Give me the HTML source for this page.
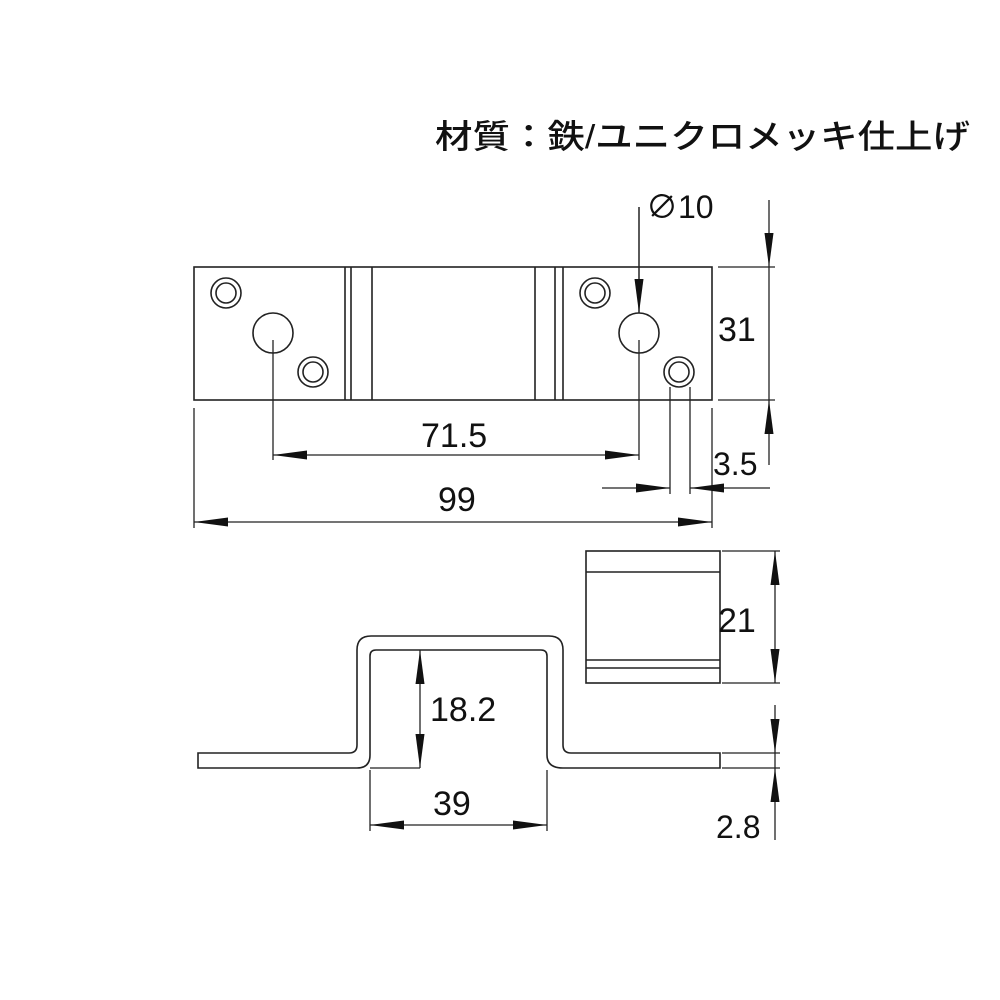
<!DOCTYPE html>
<html><head><meta charset="utf-8"><style>
html,body{margin:0;padding:0;background:#fff;}
svg{display:block;}
text{font-family:"Liberation Sans","Noto Sans CJK JP",sans-serif;fill:#111;}
</style></head><body>
<svg width="1000" height="1000" viewBox="0 0 1000 1000" xmlns="http://www.w3.org/2000/svg">
<defs>
<marker id="a" viewBox="0 0 34 10" refX="34" refY="5" markerWidth="34" markerHeight="10" markerUnits="userSpaceOnUse" orient="auto-start-reverse"><path d="M0,0.5 L34,5 L0,9.5z" fill="#111"/></marker>
</defs>
<text x="435" y="148" font-size="33" font-family="'Noto Sans CJK JP',sans-serif" font-weight="500" textLength="535" lengthAdjust="spacingAndGlyphs">材質：鉄/ユニクロメッキ仕上げ</text>

<g stroke="#222" stroke-width="1.6" fill="none">
<rect x="194" y="267" width="518" height="133"/>
<line x1="345" y1="267" x2="345" y2="400"/><line x1="351" y1="267" x2="351" y2="400"/><line x1="372" y1="267" x2="372" y2="400"/>
<line x1="535" y1="267" x2="535" y2="400"/><line x1="555" y1="267" x2="555" y2="400"/><line x1="563" y1="267" x2="563" y2="400"/>
<circle cx="226" cy="293" r="15"/><circle cx="226" cy="293" r="10"/>
<circle cx="313" cy="372" r="15"/><circle cx="313" cy="372" r="10"/>
<circle cx="595" cy="293" r="15"/><circle cx="595" cy="293" r="10"/>
<circle cx="679" cy="372" r="15"/><circle cx="679" cy="372" r="10"/>
<circle cx="273" cy="333" r="20"/><circle cx="639" cy="333" r="20"/>
</g>
<g stroke="#222" stroke-width="1.3" fill="none">
<line x1="639" y1="207" x2="639" y2="313" marker-end="url(#a)" stroke-width="1.5"/>
<line x1="273" y1="340" x2="273" y2="460"/><line x1="639" y1="340" x2="639" y2="460"/>
<line x1="273" y1="455" x2="639" y2="455" marker-start="url(#a)" marker-end="url(#a)"/>
<line x1="194" y1="408" x2="194" y2="528"/><line x1="712" y1="408" x2="712" y2="528"/>
<line x1="194" y1="522" x2="712" y2="522" marker-start="url(#a)" marker-end="url(#a)"/>
<line x1="670" y1="387" x2="670" y2="494"/><line x1="690" y1="387" x2="690" y2="494"/>
<line x1="602" y1="488" x2="670" y2="488" marker-end="url(#a)"/>
<line x1="770" y1="488" x2="690" y2="488" marker-end="url(#a)"/>
<line x1="718" y1="267" x2="775" y2="267"/><line x1="718" y1="400" x2="775" y2="400"/>
<line x1="769" y1="200" x2="769" y2="267" marker-end="url(#a)"/>
<line x1="769" y1="267" x2="769" y2="400"/>
<line x1="769" y1="465" x2="769" y2="400" marker-end="url(#a)"/>
</g>
<text x="646" y="218" font-size="32">∅10</text>
<text x="718" y="341" font-size="34">31</text>
<text x="421" y="447" font-size="34">71.5</text>
<text x="438" y="511" font-size="34">99</text>
<text x="713" y="475" font-size="32">3.5</text>

<g stroke="#222" stroke-width="1.6" fill="none">
<rect x="586" y="551" width="134" height="132"/>
<line x1="586" y1="572" x2="720" y2="572"/>
<line x1="586" y1="660" x2="720" y2="660"/><line x1="586" y1="668" x2="720" y2="668"/>
<path d="M198,753 L349,753 Q357,753 357,745 L357,650 Q357,636 371,636 L549,636 Q563,636 563,650 L563,745 Q563,753 571,753 L720,753 L720,768 L563,768 Q547,768 547,755 L547,656 Q547,650 541,650 L376,650 Q370,650 370,656 L370,755 Q370,768 357,768 L198,768 Z"/>
</g>
<g stroke="#222" stroke-width="1.3" fill="none">
<line x1="722" y1="551" x2="780" y2="551"/><line x1="722" y1="683" x2="780" y2="683"/>
<line x1="775" y1="551" x2="775" y2="683" marker-start="url(#a)" marker-end="url(#a)"/>
<line x1="420" y1="650" x2="420" y2="768" marker-start="url(#a)" marker-end="url(#a)"/>
<line x1="370" y1="768" x2="420" y2="768"/>
<line x1="370" y1="770" x2="370" y2="831"/><line x1="547" y1="770" x2="547" y2="831"/>
<line x1="370" y1="825" x2="547" y2="825" marker-start="url(#a)" marker-end="url(#a)"/>
<line x1="722" y1="753" x2="780" y2="753"/><line x1="722" y1="768" x2="780" y2="768"/>
<line x1="775" y1="705" x2="775" y2="753" marker-end="url(#a)"/>
<line x1="775" y1="753" x2="775" y2="768"/>
<line x1="775" y1="840" x2="775" y2="768" marker-end="url(#a)"/>
</g>
<text x="718" y="632" font-size="34">21</text>
<text x="430" y="721" font-size="34">18.2</text>
<text x="433" y="815" font-size="34">39</text>
<text x="716" y="838" font-size="32">2.8</text>
</svg>
</body></html>
